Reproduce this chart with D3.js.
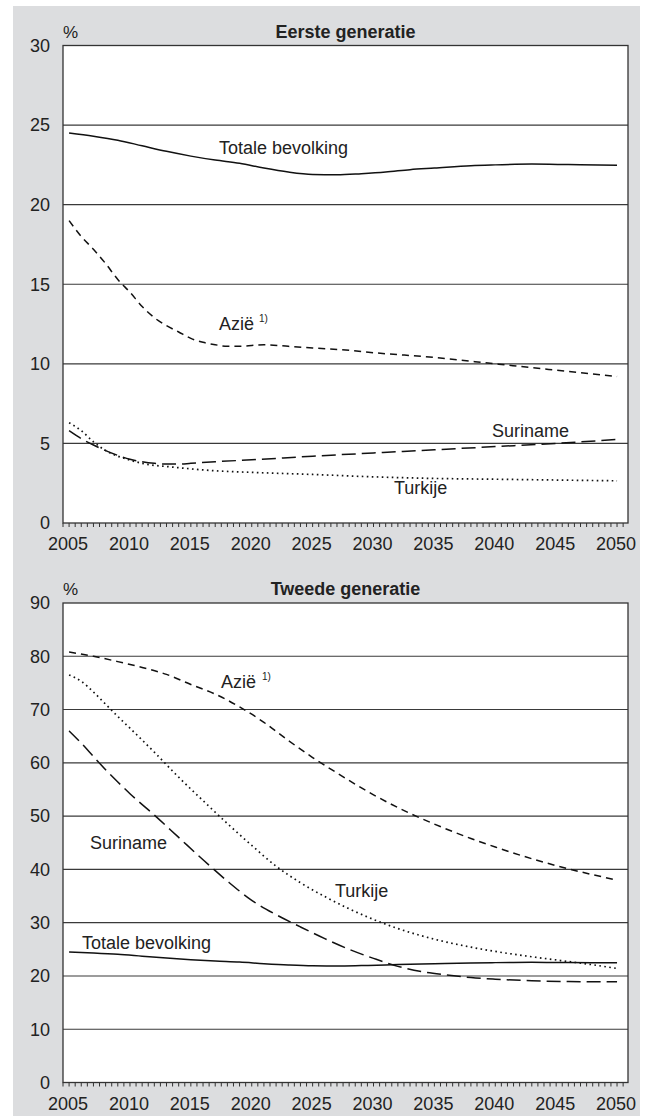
<!DOCTYPE html>
<html>
<head>
<meta charset="utf-8">
<script src="https://cdn.jsdelivr.net/npm/d3@7"></script>
<style>
  html, body { margin: 0; padding: 0; background: #ffffff; }
  svg text { font-family: "Liberation Sans", Arial, Helvetica, sans-serif; fill: #222; }
</style>
</head>
<body>
<svg id="chart" width="653" height="1118"></svg>
<script>
// ---------- data ----------
const xTickLabels = [2005, 2010, 2015, 2020, 2025, 2030, 2035, 2040, 2045, 2050];
const yTicksTop = [0, 5, 10, 15, 20, 25, 30];
const yTicksBottom = [0, 10, 20, 30, 40, 50, 60, 70, 80, 90];

const titleTop = "Eerste generatie";
const titleBottom = "Tweede generatie";

// Eerste generatie
const totaleYears = [2005, 2007, 2009, 2011, 2013, 2015, 2017, 2019, 2021, 2023, 2025, 2027, 2029, 2031, 2033, 2035, 2038, 2040, 2043, 2046, 2050];
const totaleValues = [24.5, 24.3, 24.05, 23.7, 23.35, 23.05, 22.8, 22.6, 22.3, 22.05, 21.9, 21.88, 21.95, 22.05, 22.2, 22.3, 22.45, 22.5, 22.55, 22.52, 22.47];

const azie1Years = [2005, 2006, 2007, 2008, 2009, 2010, 2011, 2012, 2013, 2014, 2015, 2016, 2017, 2018, 2019, 2021, 2023, 2025, 2028, 2030, 2035, 2040, 2045, 2050];
const azie1Values = [19.0, 18.0, 17.2, 16.3, 15.3, 14.5, 13.6, 12.9, 12.4, 12.0, 11.6, 11.35, 11.2, 11.1, 11.1, 11.2, 11.1, 11.0, 10.85, 10.7, 10.4, 10.0, 9.6, 9.2];

const suriname1Years = [2005, 2006, 2007, 2008, 2009, 2010, 2011, 2012, 2013, 2014, 2015, 2017, 2020, 2025, 2030, 2035, 2040, 2045, 2050];
const suriname1Values = [5.8, 5.3, 4.9, 4.55, 4.25, 4.0, 3.85, 3.75, 3.7, 3.7, 3.75, 3.85, 3.97, 4.2, 4.4, 4.6, 4.8, 5.0, 5.25];

const turkije1Years = [2005, 2006, 2007, 2008, 2009, 2010, 2011, 2012, 2013, 2015, 2017, 2020, 2025, 2030, 2035, 2040, 2045, 2050];
const turkije1Values = [6.3, 5.8, 5.1, 4.55, 4.2, 3.95, 3.75, 3.62, 3.55, 3.4, 3.28, 3.18, 3.05, 2.9, 2.8, 2.75, 2.7, 2.65];

// Tweede generatie
const azie2Years = [2005, 2007, 2009, 2011, 2013, 2015, 2017, 2019, 2021, 2023, 2025, 2027, 2030, 2033, 2035, 2038, 2040, 2043, 2045, 2048, 2050];
const azie2Values = [80.8, 80.0, 79.0, 77.9, 76.6, 74.7, 72.9, 70.5, 67.6, 64.2, 61.0, 58.1, 54.0, 50.5, 48.5, 45.8, 44.2, 42.0, 40.7, 39.0, 38.0];

const turkije2Years = [2005, 2006, 2007, 2008, 2009, 2010, 2012, 2014, 2016, 2018, 2020, 2022, 2024, 2026, 2028, 2030, 2032, 2035, 2038, 2040, 2043, 2045, 2048, 2050];
const turkije2Values = [76.5, 75.3, 73.3, 71.0, 68.7, 66.5, 62.0, 57.3, 52.9, 48.6, 44.5, 40.6, 37.5, 34.9, 32.6, 30.6, 28.9, 26.9, 25.4, 24.6, 23.6, 23.0, 22.1, 21.4];

const suriname2Years = [2005, 2006, 2007, 2008, 2009, 2010, 2012, 2014, 2016, 2018, 2020, 2022, 2024, 2026, 2028, 2030, 2032, 2034, 2036, 2038, 2040, 2043, 2046, 2050];
const suriname2Values = [66.0, 63.7, 61.2, 58.7, 56.4, 54.2, 50.2, 46.0, 41.8, 37.8, 34.2, 31.5, 29.2, 27.0, 25.0, 23.3, 21.8, 20.8, 20.2, 19.7, 19.4, 19.1, 18.95, 18.9];

const totale2Years = totaleYears;
const totale2Values = totaleValues;

// ---------- drawing ----------
const svg = d3.select("#chart");
const W = 653, H = 1118;

svg.append("rect").attr("x", 0).attr("y", 0).attr("width", W).attr("height", H).attr("fill", "#ffffff");
svg.append("rect").attr("x", 13).attr("y", 6).attr("width", 627).attr("height", 1110).attr("fill", "#dcdddf");

const plotLeft = 63, plotRight = 628;
const x = d3.scaleLinear().domain([2004.5, 2050.9]).range([plotLeft, plotRight]);

const styles = {
  solid: null,
  shortDash: "7,5",
  longDash: "14,6",
  dotted: "1.6,3.4"
};

function panel(cfg) {
  const y = d3.scaleLinear().domain([0, cfg.max]).range([cfg.bottom, cfg.top]);
  const g = svg.append("g");

  g.append("rect")
    .attr("x", plotLeft).attr("y", cfg.top)
    .attr("width", plotRight - plotLeft).attr("height", cfg.bottom - cfg.top)
    .attr("fill", "#ffffff");

  g.selectAll("line.grid").data(cfg.yTicks.filter(v => v > 0 && v < cfg.max)).enter()
    .append("line")
    .attr("x1", plotLeft).attr("x2", plotRight)
    .attr("y1", d => y(d)).attr("y2", d => y(d))
    .attr("stroke", "#3a3a3a").attr("stroke-width", 1.1);

  g.append("rect")
    .attr("x", plotLeft).attr("y", cfg.top)
    .attr("width", plotRight - plotLeft).attr("height", cfg.bottom - cfg.top)
    .attr("fill", "none").attr("stroke", "#333").attr("stroke-width", 1.3);

  g.selectAll("text.ylab").data(cfg.yTicks).enter()
    .append("text")
    .attr("x", 50).attr("y", d => y(d))
    .attr("dy", "0.35em")
    .attr("text-anchor", "end")
    .attr("font-size", 18)
    .text(d => d);

  const xt = d3.range(2004.5, 2050.51, 0.5);
  g.selectAll("line.xt").data(xt).enter()
    .append("line")
    .attr("x1", d => x(d)).attr("x2", d => x(d))
    .attr("y1", cfg.bottom).attr("y2", cfg.bottom + 4)
    .attr("stroke", "#333").attr("stroke-width", 1);

  g.selectAll("text.xlab").data(xTickLabels).enter()
    .append("text")
    .attr("x", d => x(d) - 1).attr("y", cfg.bottom + 27)
    .attr("text-anchor", "middle")
    .attr("font-size", 18)
    .text(d => d);

  g.append("text").attr("x", 63).attr("y", cfg.top - 8).attr("font-size", 17).text("%");
  g.append("text").attr("x", (plotLeft + plotRight) / 2).attr("y", cfg.top - 8)
    .attr("text-anchor", "middle").attr("font-size", 18).attr("font-weight", "bold")
    .text(cfg.title);

  const line = d3.line().x(d => x(d[0])).y(d => y(d[1])).curve(d3.curveMonotoneX);
  cfg.series.forEach(s => {
    const pts = s.years.map((yr, i) => [yr, s.values[i]]);
    const p = g.append("path")
      .attr("d", line(pts))
      .attr("fill", "none")
      .attr("stroke", "#111")
      .attr("stroke-width", s.dash === styles.dotted ? 1.7 : 1.5);
    if (s.dash) p.attr("stroke-dasharray", s.dash);
  });

  cfg.labels.forEach(l => {
    g.append("text").attr("x", l.x).attr("y", l.y).attr("font-size", 18).text(l.text);
    if (l.sup) {
      g.append("text").attr("x", l.x + l.supDx).attr("y", l.y - 8).attr("font-size", 10).text(l.sup);
    }
  });
}

panel({
  top: 45.5, bottom: 523, max: 30, yTicks: yTicksTop, title: titleTop,
  series: [
    { years: totaleYears, values: totaleValues, dash: styles.solid },
    { years: azie1Years, values: azie1Values, dash: styles.shortDash },
    { years: suriname1Years, values: suriname1Values, dash: styles.longDash },
    { years: turkije1Years, values: turkije1Values, dash: styles.dotted }
  ],
  labels: [
    { text: "Totale bevolking", x: 219, y: 154 },
    { text: "Azië", x: 219, y: 330, sup: "1)", supDx: 40 },
    { text: "Suriname", x: 492, y: 437 },
    { text: "Turkije", x: 394, y: 494 }
  ]
});

panel({
  top: 603, bottom: 1082.5, max: 90, yTicks: yTicksBottom, title: titleBottom,
  series: [
    { years: totale2Years, values: totale2Values, dash: styles.solid },
    { years: azie2Years, values: azie2Values, dash: styles.shortDash },
    { years: suriname2Years, values: suriname2Values, dash: styles.longDash },
    { years: turkije2Years, values: turkije2Values, dash: styles.dotted }
  ],
  labels: [
    { text: "Azië", x: 221, y: 688, sup: "1)", supDx: 41 },
    { text: "Turkije", x: 335, y: 897 },
    { text: "Suriname", x: 90, y: 849 },
    { text: "Totale bevolking", x: 82, y: 949 }
  ]
});
</script>
</body>
</html>
